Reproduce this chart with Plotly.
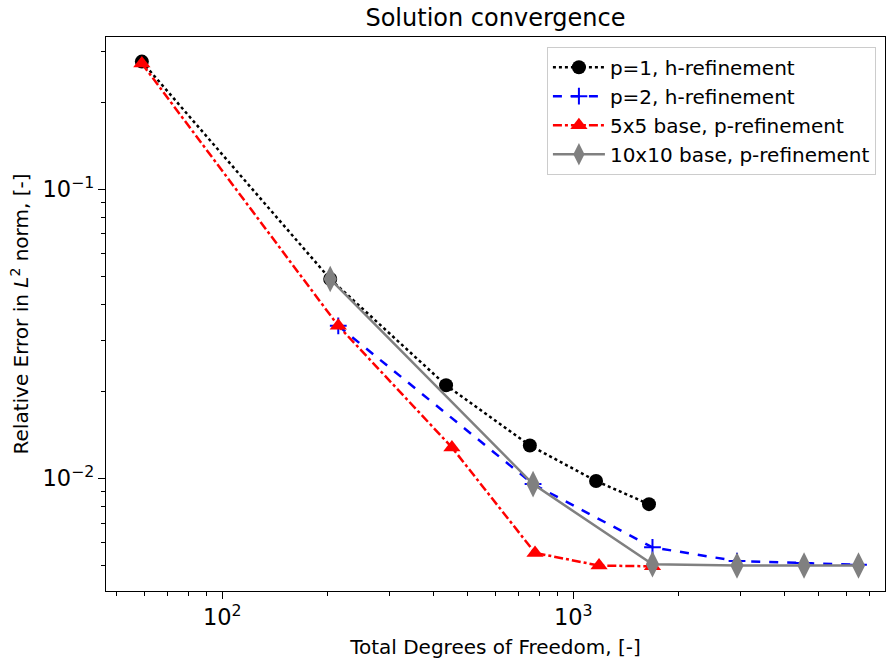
import plotly.graph_objects as go

# Data
p1_dof = [59, 203, 434, 752, 1161, 1643]
p1_err = [0.276, 0.0489, 0.0210, 0.0130, 0.0098, 0.00815]

p2_dof = [214, 768, 1681, 2927, 4543, 6494]
p2_err = [0.0337, 0.00956, 0.00578, 0.00518, 0.00510, 0.00503]

b5_dof = [59, 214, 451, 778, 1184, 1681]
b5_err = [0.272, 0.0337, 0.0128, 0.00553, 0.00500, 0.00497]

b10_dof = [203, 768, 1681, 2927, 4543, 6494]
b10_err = [0.0489, 0.00956, 0.00505, 0.00500, 0.00500, 0.00500]

FONT = "DejaVu Sans"

fig = go.Figure()
fig.add_trace(go.Scatter(
    x=p1_dof, y=p1_err, mode="lines+markers", name="p=1, h-refinement",
    line=dict(color="black", width=2.5, dash="dot"),
    marker=dict(symbol="circle", size=14, color="black")))
fig.add_trace(go.Scatter(
    x=p2_dof, y=p2_err, mode="lines+markers", name="p=2, h-refinement",
    line=dict(color="#0000ff", width=2.5, dash="dash"),
    marker=dict(symbol="cross-thin", size=12, color="#0000ff",
                line=dict(color="#0000ff", width=2))))
fig.add_trace(go.Scatter(
    x=b5_dof, y=b5_err, mode="lines+markers", name="5x5 base, p-refinement",
    line=dict(color="#ff0000", width=2.5, dash="dashdot"),
    marker=dict(symbol="triangle-up", size=15, color="#ff0000")))
fig.add_trace(go.Scatter(
    x=b10_dof, y=b10_err, mode="lines+markers", name="10x10 base, p-refinement",
    line=dict(color="#808080", width=2.5),
    marker=dict(symbol="diamond-tall", size=19, color="#808080")))

axis_common = dict(
    type="log", showgrid=False, zeroline=False,
    showline=True, linecolor="black", linewidth=1.2, mirror=True,
    ticks="outside", ticklen=7, tickwidth=1.2, tickcolor="black",
    dtick=1, exponentformat="power",
    tickfont=dict(family=FONT, size=18, color="black"),
    minor=dict(ticks="outside", ticklen=4, tickwidth=1, tickcolor="black", dtick="D1", showgrid=False),
)

fig.update_layout(
    width=886, height=662,
    margin=dict(l=106, r=1, t=37, b=71),
    plot_bgcolor="white", paper_bgcolor="white",
    font=dict(family=FONT, color="black"),
    title=dict(text="Solution convergence", x=0.5, xref="paper", xanchor="center",
               y=1 - 18 / 662, yref="container", yanchor="middle",
               font=dict(family=FONT, size=24, color="black")),
    xaxis=dict(axis_common, range=[1.6687, 3.888],
               title=dict(text="Total Degrees of Freedom, [-]", standoff=10,
                          font=dict(family=FONT, size=20))),
    yaxis=dict(axis_common, range=[-2.389, -0.474],
               title=dict(text="Relative Error in <i>L</i><sup>2</sup> norm, [-]", standoff=8,
                          font=dict(family=FONT, size=20))),
    legend=dict(x=0.566, y=0.9825, xanchor="left", yanchor="top",
                bgcolor="rgba(255,255,255,0.9)", bordercolor="#cccccc", borderwidth=1,
                font=dict(family=FONT, size=20), tracegroupgap=0, itemwidth=52),
    showlegend=True,
)

fig.write_html("out.html")
